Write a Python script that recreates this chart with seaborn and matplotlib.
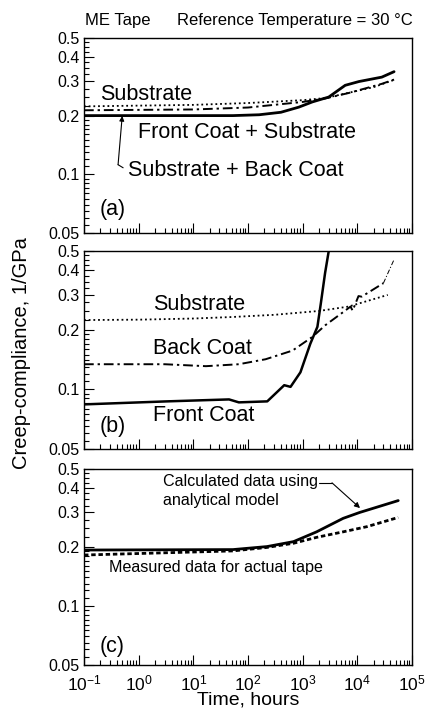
import numpy as np
import pandas as pd
import matplotlib
matplotlib.use("Agg")
import matplotlib.pyplot as plt
from matplotlib.ticker import FixedLocator, NullFormatter
import seaborn as sns

# ---- data: time (hours) and creep compliance (1/GPa) ----
# (a) composite layers
a_front_sub_t = [0.1, 10, 53, 160, 400, 850, 1500, 3000, 6000, 10700, 28000, 47000]
a_front_sub_j = [0.200, 0.200, 0.200, 0.202, 0.208, 0.221, 0.235, 0.249, 0.286, 0.299, 0.315, 0.336]
a_sub_t = [0.1, 10, 100, 1000, 2600, 7000, 20000, 47000]
a_sub_j = [0.223, 0.227, 0.232, 0.240, 0.246, 0.262, 0.280, 0.305]
a_sub_back_t = [0.1, 10, 100, 1000, 2600, 6900, 28000, 47000]
a_sub_back_j = [0.213, 0.215, 0.220, 0.235, 0.245, 0.261, 0.291, 0.306]

# (b) individual layers
b_sub_t = [0.1, 1, 10, 50, 300, 2000, 6900, 36000]
b_sub_j = [0.224, 0.225, 0.228, 0.232, 0.238, 0.249, 0.262, 0.300]
b_back_t = [0.1, 3, 17, 68, 210, 650, 1500, 2600, 6000, 7500, 8200, 10500, 12000, 30000]
b_back_j = [0.134, 0.134, 0.131, 0.134, 0.142, 0.157, 0.184, 0.211, 0.250, 0.262, 0.250, 0.296, 0.294, 0.344]
b_back_tail_t = [30000, 47000]
b_back_tail_j = [0.344, 0.453]
b_front_t = [0.1, 3.3, 45, 68, 225, 460, 600, 910, 1380, 1860, 2150, 2570, 3000, 3400]
b_front_j = [0.084, 0.087, 0.089, 0.086, 0.087, 0.105, 0.103, 0.122, 0.170, 0.207, 0.272, 0.387, 0.500, 0.650]

# (c) model vs. measurement
c_calc_t = [0.1, 53, 223, 680, 1800, 5500, 11000, 56000]
c_calc_j = [0.193, 0.194, 0.201, 0.213, 0.239, 0.280, 0.300, 0.345]
c_meas_t = [0.1, 53, 223, 680, 1800, 5500, 15000, 56000]
c_meas_j = [0.182, 0.191, 0.199, 0.209, 0.224, 0.239, 0.254, 0.283]

y_major = [0.05, 0.1, 0.2, 0.3, 0.4, 0.5]
y_labels = ["0.05", "0.1", "0.2", "0.3", "0.4", "0.5"]
x_major = [1e-1, 1e0, 1e1, 1e2, 1e3, 1e4, 1e5]
x_labels = ["$10^{-1}$", "$10^{0}$", "$10^{1}$", "$10^{2}$", "$10^{3}$", "$10^{4}$", "$10^{5}$"]

sns.set_theme(style="ticks")
plt.rcParams["font.family"] = ["Liberation Sans", "DejaVu Sans"]
plt.rcParams["mathtext.default"] = "regular"
for key in ("text.color", "axes.labelcolor", "xtick.color", "ytick.color", "axes.edgecolor"):
    plt.rcParams[key] = "black"

fig = plt.figure(figsize=(4.27, 7.14), dpi=100)
L, W = 84 / 427, 328 / 427
ax_a = fig.add_axes([L, 1 - 233 / 714, W, 195 / 714])
ax_b = fig.add_axes([L, 1 - 449 / 714, W, 198 / 714])
ax_c = fig.add_axes([L, 1 - 665 / 714, W, 196 / 714])

SOLID = "-"
DOT = (0, (1, 1.6))
DASHDOT = (0, (5, 2, 1.2, 2))
ANN = 15.5


def curve(ax, t, j, ls, lw):
    df = pd.DataFrame({"t": t, "j": j})
    sns.lineplot(data=df, x="t", y="j", ax=ax, color="black", linestyle=ls,
                 linewidth=lw, sort=False, estimator=None)


def style_axis(ax, show_x):
    ax.set_xscale("log")
    ax.set_yscale("log")
    ax.set_xlim(0.1, 1e5)
    ax.set_ylim(0.05, 0.5)
    ax.yaxis.set_major_locator(FixedLocator(y_major))
    ax.set_yticklabels(y_labels)
    minors = list(np.arange(0.055, 0.1, 0.005)) + list(np.arange(0.11, 0.2, 0.01)) + \
        [0.225, 0.25, 0.275, 0.325, 0.35, 0.375, 0.425, 0.45, 0.475]
    ax.yaxis.set_minor_locator(FixedLocator(minors))
    ax.yaxis.set_minor_formatter(NullFormatter())
    ax.xaxis.set_major_locator(FixedLocator(x_major))
    xminor = [m * 10.0 ** e for e in range(-1, 5) for m in range(2, 10)]
    ax.xaxis.set_minor_locator(FixedLocator(xminor))
    ax.xaxis.set_minor_formatter(NullFormatter())
    if show_x:
        ax.set_xticklabels(x_labels)
    else:
        ax.set_xticklabels([])
    ax.tick_params(axis="both", which="both", direction="in", top=False, right=False,
                   colors="black", width=0.8)
    ax.tick_params(axis="both", which="major", length=7, labelsize=11.5, pad=3)
    ax.tick_params(axis="x", which="major", labelsize=12.5, pad=6)
    ax.tick_params(axis="both", which="minor", length=3.5)
    ax.set_xlabel("")
    ax.set_ylabel("")
    for s in ax.spines.values():
        s.set_visible(True)
        s.set_color("black")
        s.set_linewidth(1.0)


# (a)
curve(ax_a, a_sub_t, a_sub_j, DOT, 1.3)
curve(ax_a, a_sub_back_t, a_sub_back_j, DASHDOT, 1.4)
curve(ax_a, a_front_sub_t, a_front_sub_j, SOLID, 2.0)
style_axis(ax_a, False)
ax_a.text(0.196, 0.258, "Substrate", fontsize=ANN, va="center")
ax_a.text(0.97, 0.163, "Front Coat + Substrate", fontsize=ANN, va="center")
ax_a.text(0.64, 0.105, "Substrate + Back Coat", fontsize=ANN, va="center")
ax_a.annotate("", xy=(0.5, 0.199), xytext=(0.42, 0.112),
              arrowprops=dict(arrowstyle="-|>", color="black", lw=0.8,
                              mutation_scale=7, shrinkA=0, shrinkB=0))
ax_a.plot([0.42, 0.52], [0.112, 0.108], color="black", lw=0.8)
ax_a.text(0.19, 0.066, "(a)", fontsize=ANN, va="center")

# (b)
curve(ax_b, b_sub_t, b_sub_j, DOT, 1.3)
curve(ax_b, b_back_t, b_back_j, DASHDOT, 1.4)
curve(ax_b, b_back_tail_t, b_back_tail_j, DASHDOT, 0.7)
curve(ax_b, b_front_t, b_front_j, SOLID, 1.8)
style_axis(ax_b, False)
ax_b.text(1.83, 0.267, "Substrate", fontsize=ANN, va="center")
ax_b.text(1.83, 0.160, "Back Coat", fontsize=ANN, va="center")
ax_b.text(1.83, 0.0734, "Front Coat", fontsize=ANN, va="center")
ax_b.text(0.19, 0.0646, "(b)", fontsize=ANN, va="center")

# (c)
curve(ax_c, c_meas_t, c_meas_j, (0, (1.6, 1.0)), 2.0)
curve(ax_c, c_calc_t, c_calc_j, SOLID, 2.0)
style_axis(ax_c, True)
ax_c.text(2.75, 0.43, "Calculated data using", fontsize=11.6, va="center")
ax_c.text(2.75, 0.347, "analytical model", fontsize=11.6, va="center")
ax_c.plot([1990, 3440], [0.425, 0.425], color="black", lw=0.8)
ax_c.annotate("", xy=(1.12e4, 0.316), xytext=(3440, 0.425),
              arrowprops=dict(arrowstyle="-|>", color="black", lw=0.8,
                              mutation_scale=8, shrinkA=0, shrinkB=0))
ax_c.text(0.29, 0.158, "Measured data for actual tape", fontsize=11.6, va="center")
ax_c.text(0.19, 0.062, "(c)", fontsize=ANN, va="center")
ax_c.set_xlabel("Time, hours", fontsize=14, labelpad=-1)

fig.text(85 / 427, 1 - 20 / 714, "ME Tape", fontsize=12, va="center", ha="left")
fig.text(177 / 427, 1 - 20 / 714, "Reference Temperature = 30 \u00b0C", fontsize=12,
         va="center", ha="left")
fig.text(22 / 427, 1 - 353 / 714, "Creep-compliance, 1/GPa", fontsize=14.5,
         rotation=90, va="center", ha="center")

fig.savefig("out.png", dpi=100, facecolor="white")
